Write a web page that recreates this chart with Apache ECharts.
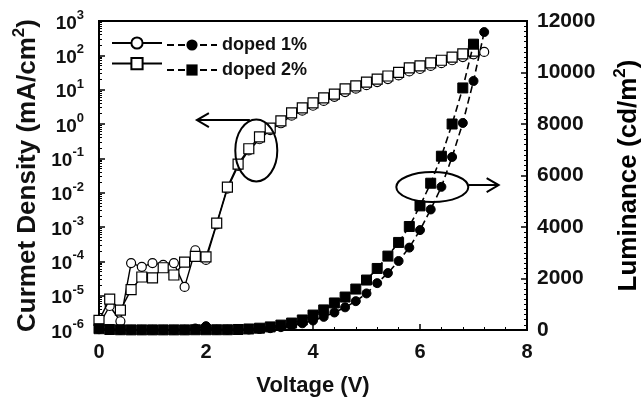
<!DOCTYPE html>
<html>
<head>
<meta charset="utf-8">
<script src="https://cdn.jsdelivr.net/npm/echarts@6/dist/echarts.min.js"></script>
<style>
  html, body { margin: 0; padding: 0; background: #fff; }
  #chart { width: 642px; height: 412px; }
</style>
</head>
<body>
<div id="chart"></div>
<script>
// 电压 (V)
var volt2 = [0.0, 0.2, 0.4, 0.6, 0.8, 1.0, 1.2, 1.4, 1.6, 1.8, 2.0, 2.2, 2.4, 2.6, 2.8, 3.0, 3.2, 3.4,
             3.6, 3.8, 4.0, 4.2, 4.4, 4.6, 4.8, 5.0, 5.2, 5.4, 5.6, 5.8, 6.0, 6.2, 6.4, 6.6, 6.8, 7.0];
var volt1 = [0.0, 0.2, 0.4, 0.6, 0.8, 1.0, 1.2, 1.4, 1.6, 1.8, 2.0, 2.2, 2.4, 2.6, 2.8, 3.0, 3.2, 3.4,
             3.6, 3.8, 4.0, 4.2, 4.4, 4.6, 4.8, 5.0, 5.2, 5.4, 5.6, 5.8, 6.0, 6.2, 6.4, 6.6, 6.8, 7.0, 7.2];

// 电流密度 (mA/cm2)
var cur1 = [1.4e-6, 5.0e-6, 1.8e-6, 8.9e-5, 6.9e-5, 8.9e-5, 7.9e-5, 8.9e-5, 1.8e-5, 2.1e-4, 1.1e-4,
            1.2e-3, 1.3e-2, 6.0e-2, 0.17, 0.36, 0.66, 1.05, 1.75, 2.45, 3.4, 4.7, 6.2, 8.5, 10.7, 13.5,
            16.6, 20.4, 26, 34, 40, 49, 59, 72, 89, 107, 126];
var cur2 = [1.9e-6, 7.9e-6, 3.8e-6, 1.5e-5, 3.5e-5, 3.3e-5, 6.5e-5, 4.0e-5, 9.5e-5, 1.4e-4, 1.35e-4,
            1.3e-3, 1.45e-2, 6.8e-2, 0.19, 0.42, 0.76, 1.23, 2.1, 2.95, 4.1, 5.8, 7.4, 10.5, 12.9, 16.6,
            20.4, 25, 32, 43, 49, 60, 72, 89, 110, 132];

// 亮度 (cd/m2)
var lum1 = [30, 10, 5, 5, 5, 5, 5, 5, 10, 60, 150, 10, 10, 10, 20, 40, 70, 110, 170, 260, 370, 510,
            680, 880, 1120, 1420, 1820, 2210, 2680, 3200, 3880, 4680, 5560, 6720, 8040, 9670, 11570];
var lum2 = [50, 20, 10, 5, 5, 5, 5, 5, 5, 10, 10, 10, 10, 20, 40, 70, 120, 190, 270, 390, 580, 780,
            1050, 1280, 1590, 1940, 2390, 2870, 3400, 4020, 4820, 5700, 6750, 8000, 9400, 11100];

function pairs(xs, ys) {
    var out = [];
    for (var i = 0; i < ys.length; i++) out.push([xs[i], ys[i]]);
    return out;
}

var FONT = 'Arial, "Liberation Sans", sans-serif';
var myChart = echarts.init(document.getElementById('chart'));

var nameRich = {
    a: { fontFamily: FONT, fontWeight: 'bold', fontSize: 26, color: '#111', lineHeight: 30, verticalAlign: 'bottom' },
    s: { fontFamily: FONT, fontWeight: 'bold', fontSize: 17, color: '#111', lineHeight: 17, verticalAlign: 'top' }
};
var legendText = { fontFamily: FONT, fontWeight: 'bold', fontSize: 18, color: '#111' };

var option = {
    animation: false,
    backgroundColor: '#fff',
    grid: {
        left: 99, right: 115, top: 21, bottom: 82,
        outerBoundsMode: 'none',
        containLabel: false,
        show: true, borderColor: '#000', borderWidth: 2
    },
    legend: [{
        data: ['J 1%', 'J 2%'],
        orient: 'vertical',
        left: 106, top: 31,
        itemWidth: 50, itemHeight: 14, itemGap: 7,
        textStyle: legendText,
        formatter: function() { return ''; },
        selectedMode: false
    }, {
        data: ['doped 1%', 'doped 2%'],
        orient: 'vertical',
        left: 161, top: 31,
        itemWidth: 50, itemHeight: 14, itemGap: 7,
        textStyle: legendText,
        selectedMode: false
    }],
    xAxis: {
        type: 'value',
        min: 0, max: 8, interval: 2,
        name: 'Voltage (V)',
        nameLocation: 'middle',
        nameGap: 45,
        nameTextStyle: { fontFamily: FONT, fontWeight: 'bold', fontSize: 22, color: '#111' },
        axisLine: { lineStyle: { color: '#000', width: 2 } },
        axisTick: { inside: true, length: 6, lineStyle: { color: '#000', width: 1.5 } },
        minorTick: { show: true, splitNumber: 5, length: 3, lineStyle: { color: '#000' } },
        axisLabel: { fontFamily: FONT, fontWeight: 'bold', fontSize: 20, color: '#111', margin: 12 },
        splitLine: { show: false }
    },
    yAxis: [{
        type: 'log',
        logBase: 10,
        min: 1e-6, max: 1e3,
        splitNumber: 9,
        position: 'left',
        name: '{a|Curmet Density (mA/cm}{s|2}{a|)}',
        nameLocation: 'middle',
        nameGap: 58,
        nameTextStyle: { rich: nameRich },
        axisLine: { show: true, lineStyle: { color: '#000', width: 2 } },
        axisTick: { inside: true, length: 6, lineStyle: { color: '#000', width: 1.5 } },
        minorTick: { show: true, splitNumber: 9, length: 3, lineStyle: { color: '#000' } },
        axisLabel: {
            margin: 15,
            formatter: function(v) {
                return '{b|10}{s|' + Math.round(Math.log10(v)) + '}';
            },
            rich: {
                b: { fontFamily: FONT, fontWeight: 'bold', fontSize: 19, color: '#111', lineHeight: 24, verticalAlign: 'bottom' },
                s: { fontFamily: FONT, fontWeight: 'bold', fontSize: 13, color: '#111', lineHeight: 13, verticalAlign: 'top' }
            }
        },
        splitLine: { show: false }
    }, {
        type: 'value',
        min: 0, max: 12000, interval: 2000,
        position: 'right',
        axisLine: { show: true, lineStyle: { color: '#000', width: 2 } },
        axisTick: { inside: true, length: 6, lineStyle: { color: '#000', width: 1.5 } },
        minorTick: { show: true, splitNumber: 10, length: 3, lineStyle: { color: '#000' } },
        axisLabel: {
            fontFamily: FONT, fontWeight: 'bold', fontSize: 21, color: '#111', margin: 10,
            formatter: function(v) { return String(v); }
        },
        splitLine: { show: false }
    }],
    series: [{
        name: 'J 1%',
        type: 'line',
        yAxisIndex: 0,
        data: pairs(volt1, cur1),
        symbol: 'circle', symbolSize: 9,
        itemStyle: { color: '#fff', borderColor: '#000', borderWidth: 1.2 },
        lineStyle: { color: '#000', width: 1.4 },
        z: 2
    }, {
        name: 'J 2%',
        type: 'line',
        yAxisIndex: 0,
        data: pairs(volt2, cur2),
        symbol: 'rect', symbolSize: 10,
        itemStyle: { color: '#fff', borderColor: '#000', borderWidth: 1.2 },
        lineStyle: { color: '#000', width: 1.4 },
        z: 3
    }, {
        name: 'doped 1%',
        type: 'line',
        yAxisIndex: 1,
        data: pairs(volt1, lum1),
        symbol: 'circle', symbolSize: 9,
        itemStyle: { color: '#000', borderColor: '#000' },
        lineStyle: { color: '#000', width: 1.6, type: [7, 4] },
        z: 4
    }, {
        name: 'doped 2%',
        type: 'line',
        yAxisIndex: 1,
        data: pairs(volt2, lum2),
        symbol: 'rect', symbolSize: 10,
        itemStyle: { color: '#000', borderColor: '#000' },
        lineStyle: { color: '#000', width: 1.6, type: [7, 4] },
        z: 5
    }]
};

myChart.setOption(option);

// 注释：椭圆和箭头（数据坐标）
var ellipseJ = { at: [2.94, 0.17], rx: 21, ry: 31 };
var arrowJ = { from: [2.82, 1.3], to: [1.83, 1.3] };
var ellipseL = { at: [6.23, 5550], rx: 36, ry: 15 };
var arrowL = { from: [6.91, 5630], to: [7.47, 5630] };

function px(axis, p) {
    return myChart.convertToPixel({ xAxisIndex: 0, yAxisIndex: axis }, p);
}

function arrow(a, b) {
    var dir = b[0] > a[0] ? 1 : -1;
    return [{
        type: 'line',
        shape: { x1: a[0], y1: a[1], x2: b[0], y2: b[1] },
        style: { stroke: '#000', lineWidth: 2 }, z: 100
    }, {
        type: 'polyline',
        shape: { points: [[b[0] - dir * 12, b[1] - 7], [b[0], b[1]], [b[0] - dir * 12, b[1] + 7]] },
        style: { stroke: '#000', lineWidth: 2, fill: null }, z: 100
    }];
}

var cJ = px(0, ellipseJ.at), cL = px(1, ellipseL.at);
var aJ1 = px(0, arrowJ.from), aJ2 = px(0, arrowJ.to);
var aL1 = px(1, arrowL.from), aL2 = px(1, arrowL.to);

// 右轴标题（从下往上读）
var mid = px(1, [8, 6000]);

myChart.setOption({
    graphic: [{
        type: 'ellipse',
        shape: { cx: cJ[0], cy: cJ[1], rx: ellipseJ.rx, ry: ellipseJ.ry },
        style: { stroke: '#000', lineWidth: 2, fill: null }, z: 100
    }, {
        type: 'ellipse',
        shape: { cx: cL[0], cy: cL[1], rx: ellipseL.rx, ry: ellipseL.ry },
        style: { stroke: '#000', lineWidth: 2, fill: null }, z: 100
    }, {
        type: 'text',
        x: mid[0] + 100, y: mid[1],
        rotation: Math.PI / 2,
        style: {
            text: '{a|Luminance (cd/m}{s|2}{a|)}',
            rich: nameRich,
            align: 'center', verticalAlign: 'middle'
        },
        z: 100
    }].concat(arrow(aJ1, aJ2), arrow(aL1, aL2))
});
</script>
</body>
</html>
